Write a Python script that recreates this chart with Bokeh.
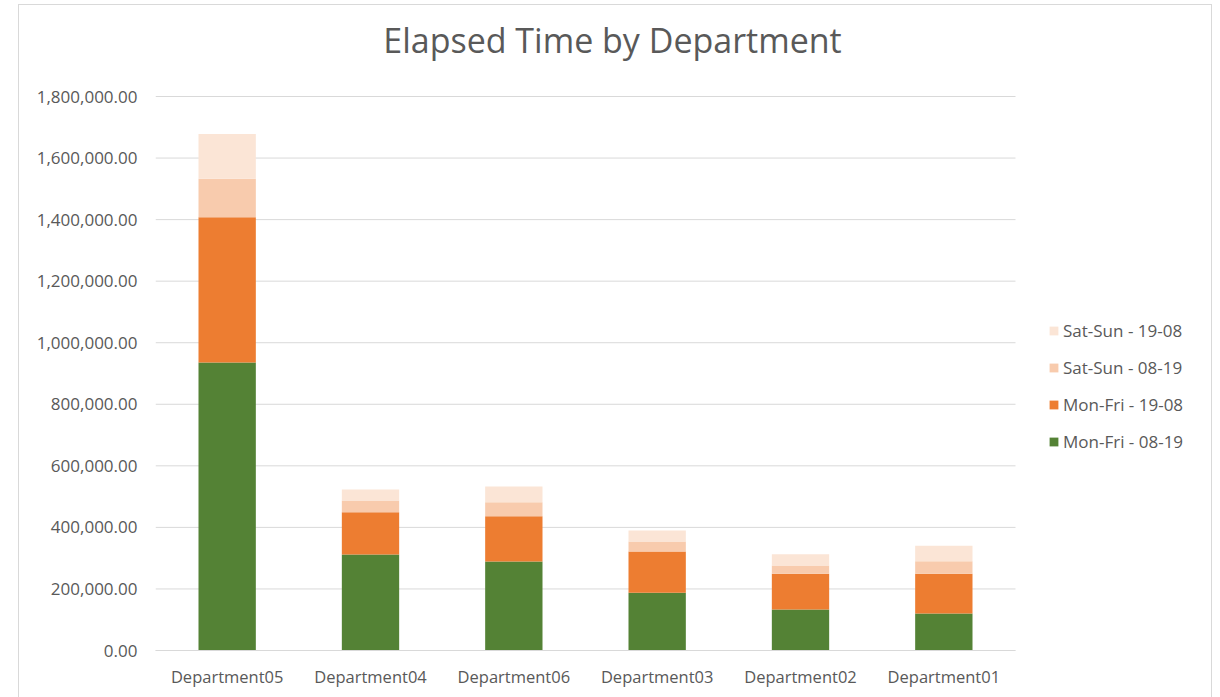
from bokeh.plotting import figure
from bokeh.models import (ColumnDataSource, Legend, LegendItem, NumeralTickFormatter,
                          Range1d, FixedTicker, Label)
from bokeh.embed import file_html
from bokeh.resources import INLINE

departments = ["Department05", "Department04", "Department06", "Department03", "Department02", "Department01"]
mon_fri_08_19 = [936000, 312000, 289000, 188000, 133000, 120000]
mon_fri_19_08 = [472000, 137000, 147000, 134000, 116000, 129000]
sat_sun_08_19 = [125000, 38000, 46000, 32000, 27000, 41000]
sat_sun_19_08 = [145000, 36000, 51000, 36000, 37000, 50000]
y_ticks = [0, 200000, 400000, 600000, 800000, 1000000, 1200000, 1400000, 1600000, 1800000]

series = ["Mon-Fri - 08-19", "Mon-Fri - 19-08", "Sat-Sun - 08-19", "Sat-Sun - 19-08"]
keys = ["mf0819", "mf1908", "ss0819", "ss1908"]
colors = ["#548235", "#ED7D31", "#F8CBAD", "#FBE5D6"]

n = len(departments)
slot = [i + 0.5 for i in range(n)]  # category slot centres on the numeric axis
source = ColumnDataSource(dict(x=slot, dept=departments, mf0819=mon_fri_08_19, mf1908=mon_fri_19_08,
                               ss0819=sat_sun_08_19, ss1908=sat_sun_19_08))

FONT = "Open Sans"
TXT = "#595959"
GRID = "#D9D9D9"

# frame spans the category area plus the legend area (x) and the title area (y)
FRAME_W, CAT_W = 1056, 860
FRAME_H, AXIS_H = 645, 554
p = figure(x_range=Range1d(0, n * FRAME_W / CAT_W),
           y_range=Range1d(0, y_ticks[-1] * FRAME_H / AXIS_H),
           width=1192, height=692, output_backend="svg", toolbar_location=None,
           min_border_left=136, min_border_right=0, min_border_top=0, min_border_bottom=47,
           margin=(5, 0, 0, 19))
p.styles = {"outline": "1px solid #D9D9D9"}

# horizontal gridlines limited to the category area
p.segment(x0=[0] * len(y_ticks), x1=[n] * len(y_ticks), y0=y_ticks, y1=y_ticks,
          line_color=GRID, line_width=1)

renderers = p.vbar_stack(keys, x="x", width=0.4, color=colors, source=source, line_width=0)

title = Label(x=457, y=611, x_units="screen", y_units="screen", text="Elapsed Time by Department",
              text_font=FONT, text_font_size="34px", text_color=TXT,
              text_align="center", text_baseline="alphabetic")
p.add_layout(title)

p.outline_line_color = None
p.background_fill_color = "white"
p.border_fill_color = "white"

p.xgrid.visible = False
p.ygrid.visible = False
p.yaxis.ticker = FixedTicker(ticks=y_ticks)
p.yaxis.formatter = NumeralTickFormatter(format="0,0.00")
p.yaxis.axis_line_color = None
p.yaxis.major_tick_line_color = None
p.yaxis.minor_tick_line_color = None
p.yaxis.major_label_standoff = 12

p.xaxis.ticker = FixedTicker(ticks=slot)
p.xaxis.major_label_overrides = {s: d for s, d in zip(slot, departments)}
p.xaxis.bounds = (0, n)
p.xaxis.axis_line_color = GRID
p.xaxis.major_tick_line_color = None
p.xaxis.minor_tick_line_color = None
p.xaxis.major_label_standoff = 8
for ax in (p.xaxis[0], p.yaxis[0]):
    ax.major_label_text_font = FONT
    ax.major_label_text_color = TXT
p.yaxis.major_label_text_font_size = "17px"
p.xaxis.major_label_text_font_size = "16.5px"

items = [LegendItem(label=series[i], renderers=[renderers[i]]) for i in range(3, -1, -1)]
legend = Legend(items=items, location=(893, 197), padding=0, margin=0, spacing=14,
                glyph_width=11, glyph_height=11, label_height=20, label_standoff=4,
                border_line_alpha=0, background_fill_alpha=0,
                label_text_font=FONT, label_text_font_size="17px", label_text_color=TXT)
p.add_layout(legend, "center")

open("out.html", "w").write(file_html(p, INLINE))
